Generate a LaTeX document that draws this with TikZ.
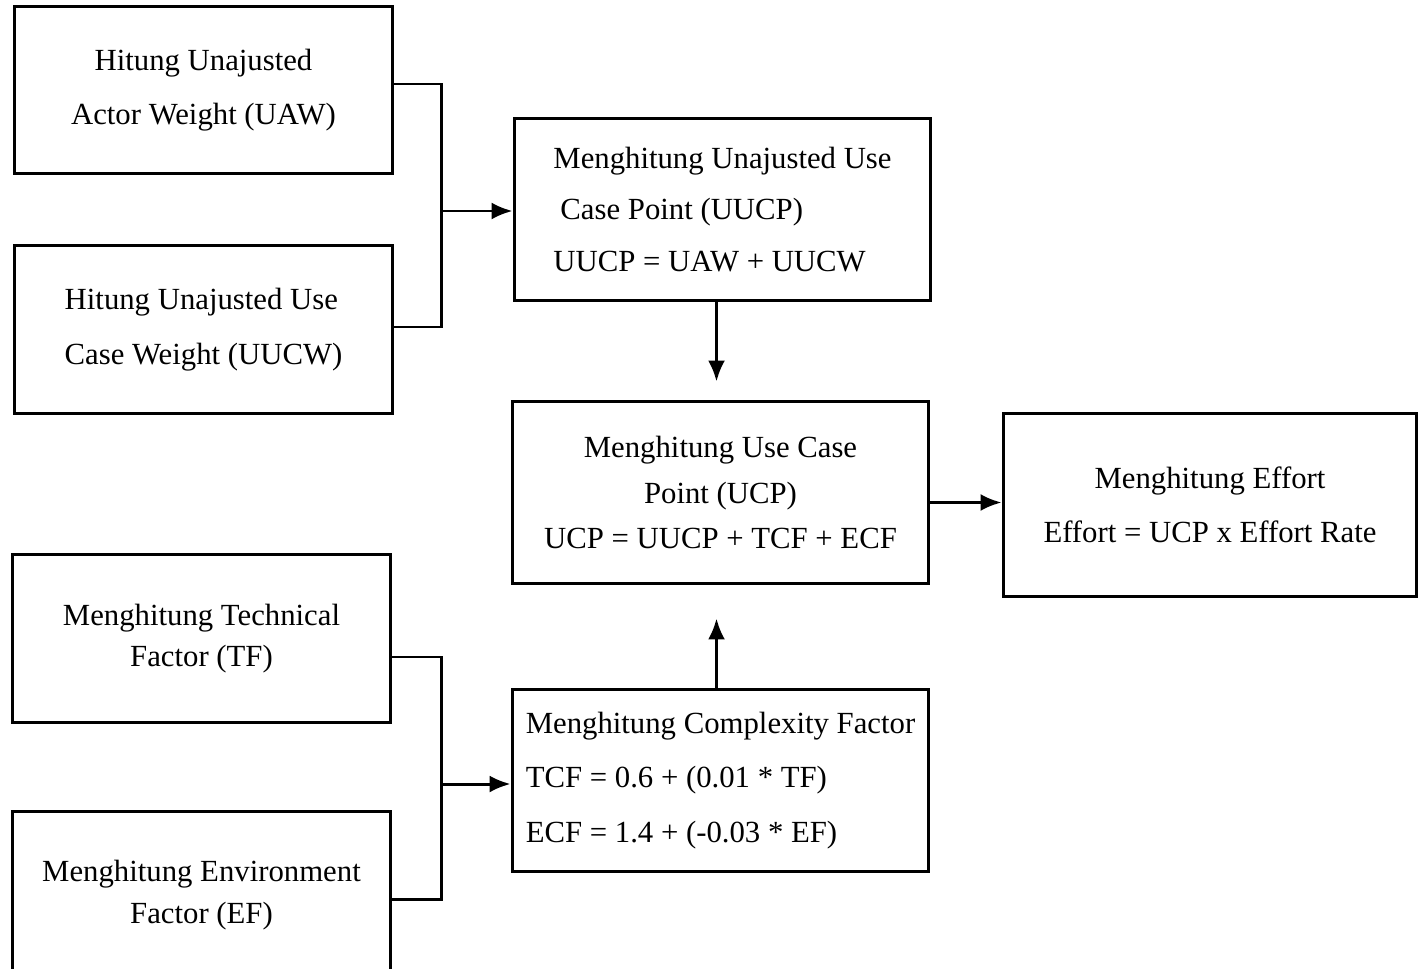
\documentclass[tikz,border=0pt]{standalone}
\usepackage{fontspec}
\setmainfont{Liberation Serif}
\usetikzlibrary{arrows.meta,positioning,calc}

\tikzset{
  box/.style={draw, line width=1.7pt, minimum width=7.58cm, minimum height=3.35cm,
    inner sep=0pt, align=center, font=\fontsize{17.5}{31}\selectfont},
  bigbox/.style={box, minimum width=8.34cm, minimum height=3.66cm},
  link/.style={line width=1.7pt},
}

\begin{document}
\begin{tikzpicture}[x=0.02cm, y=-0.02cm, >={Latex[length=0.42cm,width=0.34cm]}]
  \useasboundingbox (0,0) rectangle (1419,969);

  % left column
  \node[box] (uaw) at (203.5,90) {Hitung Unajusted\\Actor Weight (UAW)};
  \node[box, align=left] (uucw) at (203.5,329.5) {Hitung Unajusted Use\\Case Weight (UUCW)};
  \node[box, font=\fontsize{17.5}{23}\selectfont] (tf) at (201.5,638.5) {Menghitung Technical\\Factor (TF)};
  \node[box, font=\fontsize{17.5}{24}\selectfont] (ef) at (201.5,895.5) {Menghitung Environment\\Factor (EF)};

  % middle column
  \node[bigbox, align=left, font=\fontsize{17.5}{29.5}\selectfont] (uucp) at (722.5,209.5)
    {Menghitung Unajusted Use\\\hspace{4pt}Case Point (UUCP)\\UUCP = UAW + UUCW};
  \node[bigbox, font=\fontsize{17.5}{26}\selectfont] (ucp) at (720.5,492.5)
    {Menghitung Use Case\\Point (UCP)\\UCP = UUCP + TCF + ECF};
  \node[bigbox, align=left] (cf) at (720.5,780.5)
    {Menghitung Complexity Factor\\TCF = 0.6 + (0.01 * TF)\\ECF = 1.4 + (-0.03 * EF)};

  % right column
  \node[bigbox, minimum width=8.28cm, minimum height=3.68cm] (effort) at (1210,505)
    {Menghitung Effort\\Effort = UCP x Effort Rate};

  % joins
  \coordinate (ja) at (441,211);
  \coordinate (jb) at (441,784);
  \draw[link] ([yshift=0.12cm]uaw.east) -| (ja) |- ([yshift=0.05cm]uucw.east);
  \draw[link] ([yshift=-0.37cm]tf.east) -| (jb) |- ([yshift=-0.07cm]ef.east);

  % arrows
  \draw[link,->] (ja) -- (ja -| uucp.west);
  \draw[link,->] (jb) -- (jb -| cf.west);
  \draw[link,->, shorten >=0.36cm] ([xshift=-0.12cm]uucp.south) -- ([xshift=-0.12cm]uucp.south |- ucp.north);
  \draw[link,->, shorten >=0.66cm] ([xshift=-0.08cm]cf.north) -- ([xshift=-0.08cm]cf.north |- ucp.south);
  \draw[link,->] ([yshift=-0.2cm]ucp.east) -- ([yshift=-0.2cm]ucp.east -| effort.west);

\end{tikzpicture}
\end{document}
